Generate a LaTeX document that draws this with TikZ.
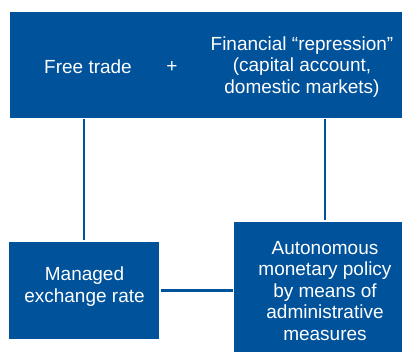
\documentclass[tikz,border=0pt]{standalone}
\usepackage{fontspec}
\setmainfont{Liberation Sans}
\definecolor{bbblue}{RGB}{0,82,155}
\begin{document}
\begin{tikzpicture}[x=1pt,y=1pt,
  box/.style={fill=bbblue, draw=none, inner sep=0pt, outer sep=0pt},
  txt/.style={text=white, font=\fontsize{19}{21.5}\selectfont, align=center, inner sep=0pt},
  link/.style={draw=bbblue, line width=2.6pt, shorten <=1.5pt, shorten >=1.5pt}]
\useasboundingbox (0,0) rectangle (402,352);
\node[box, minimum width=392, minimum height=106, anchor=north west] (top) at (10,340) {};
\node[box, minimum width=150, minimum height=97, anchor=north west] (left) at (9,110) {};
\node[box, minimum width=168, minimum height=130, anchor=north west] (right) at (234,130) {};
\node[txt] (ft) at (88,285) {Free trade};
\node[txt] (plus) at (172,285) {+};
\node[txt] (fin) at (302,285) {Financial “repression”\\(capital account,\\domestic markets)};
\node[txt] (mer) at (84.5,65.5) {Managed\\exchange rate};
\node[txt] (amp) at (325,61) {Autonomous\\monetary policy\\by means of\\administrative\\measures};
\draw[link] (left.north |- top.south) -- (left.north);
\draw[link] (amp.north |- top.south) -- (amp.north |- right.north);
\draw[link] (left.east) -- (left.east -| right.west);
\end{tikzpicture}
\end{document}
